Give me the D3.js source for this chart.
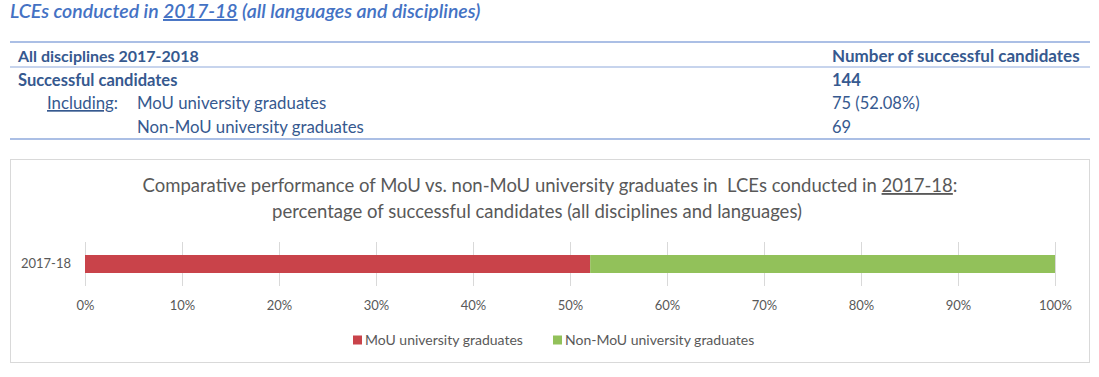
<!DOCTYPE html>
<html>
<head>
<meta charset="utf-8">
<script src="https://cdn.jsdelivr.net/npm/d3@7"></script>
<style>
  html, body { margin: 0; padding: 0; background: #fff; }
  svg { display: block; font-family: Lato, "Open Sans", sans-serif; }
  text { white-space: pre; }
</style>
</head>
<body>
<svg id="chart" width="1099" height="377"></svg>
<script>
// ---- data ----
const pageTitleParts = ["LCEs conducted in ", "2017-18", " (all languages and disciplines)"];
const tableHeader = ["All disciplines 2017-2018", "Number of successful candidates"];
const tableRowLabels = ["Successful candidates", "MoU university graduates", "Non-MoU university graduates"];
const tableRowValues = ["144", "75 (52.08%)", "69"];
const includingLabel = "Including";
const chartTitleLine1 = ["Comparative performance of MoU vs. non-MoU university graduates in  LCEs conducted in ", "2017-18", ":"];
const chartTitleLine2 = "percentage of successful candidates (all disciplines and languages)";
const categories = ["2017-18"];
const seriesNames = ["MoU university graduates", "Non-MoU university graduates"];
const mouValues = [52.08];
const nonMouValues = [47.92];
const xTicks = [0, 10, 20, 30, 40, 50, 60, 70, 80, 90, 100];
const seriesColors = ["#C9434A", "#92C15A"];

const svg = d3.select("#chart");
const blue = "#36598F";
const lineBlue = "#8FAADC";

// ---- page title ----
const pt = svg.append("text").attr("x", 10).attr("y", 18)
  .attr("font-size", 19.5).attr("font-style", "italic").attr("font-weight", 600)
  .attr("fill", "#4472C4");
pageTitleParts.forEach((p, i) => {
  pt.append("tspan").text(p).attr("text-decoration", i === 1 ? "underline" : null);
});

// ---- table ----
const tbl = svg.append("g");
const tLeft = 10, tRight = 1090, colX = 832;
[42, 67, 139].forEach(y => {
  tbl.append("line").attr("x1", tLeft).attr("x2", tRight).attr("y1", y).attr("y2", y)
    .attr("stroke", lineBlue).attr("stroke-width", y === 67 ? 1.2 : 1.6);
});
const boldSize = 16.5, regSize = 16.8;
tbl.append("text").attr("x", 18).attr("y", 62).attr("font-size", 16).attr("font-weight", 700)
  .attr("fill", blue).text(tableHeader[0]);
tbl.append("text").attr("x", colX).attr("y", 62).attr("font-size", 17).attr("font-weight", 700)
  .attr("fill", blue).text(tableHeader[1]);
const rowY = [86, 109, 133];
tbl.append("text").attr("x", 18).attr("y", rowY[0]).attr("font-size", boldSize).attr("font-weight", 700)
  .attr("fill", blue).text(tableRowLabels[0]);
const inc = tbl.append("text").attr("x", 47).attr("y", rowY[1]).attr("font-size", regSize).attr("fill", blue);
inc.append("tspan").attr("text-decoration", "underline").text(includingLabel);
inc.append("tspan").text(":");
tbl.append("text").attr("x", 137).attr("y", rowY[1]).attr("font-size", regSize).attr("fill", blue).text(tableRowLabels[1]);
tbl.append("text").attr("x", 137).attr("y", rowY[2]).attr("font-size", regSize).attr("fill", blue).text(tableRowLabels[2]);
tableRowValues.forEach((v, i) => {
  tbl.append("text").attr("x", colX).attr("y", rowY[i]).attr("font-size", i === 0 ? boldSize : 16.5)
    .attr("font-weight", i === 0 ? 700 : 400).attr("fill", blue).text(v);
});

// ---- chart box ----
svg.append("rect").attr("x", 10.5).attr("y", 159.5).attr("width", 1079).attr("height", 203)
  .attr("fill", "#fff").attr("stroke", "#D9D9D9");

const t1 = svg.append("text").attr("x", 550).attr("y", 192).attr("text-anchor", "middle")
  .attr("font-size", 18.5).attr("fill", "#595959");
chartTitleLine1.forEach((p, i) => {
  t1.append("tspan").text(p).attr("text-decoration", i === 1 ? "underline" : null);
});
svg.append("text").attr("x", 537).attr("y", 218).attr("text-anchor", "middle")
  .attr("font-size", 18.5).attr("fill", "#595959").text(chartTitleLine2);

// ---- scales ----
const x = d3.scaleLinear().domain([0, 100]).range([85, 1055]);
const y = d3.scaleBand().domain(categories).range([242, 286]).paddingInner(0.3).paddingOuter(0.3);

// gridlines
svg.append("g").selectAll("line").data(xTicks).join("line")
  .attr("x1", d => x(d) + 0.5).attr("x2", d => x(d) + 0.5)
  .attr("y1", 242).attr("y2", 286)
  .attr("stroke", "#D9D9D9").attr("stroke-width", 1);

// stacked bars
const rows = categories.map((c, i) => ({ cat: c, mou: mouValues[i], non: nonMouValues[i] }));
const stack = d3.stack().keys(["mou", "non"])(rows);
svg.append("g").selectAll("g").data(stack).join("g")
  .attr("fill", (d, i) => seriesColors[i])
  .selectAll("rect").data(d => d).join("rect")
  .attr("x", d => x(d[0])).attr("width", d => x(d[1]) - x(d[0]))
  .attr("y", 255).attr("height", 18);

// x axis labels
const xAxis = d3.axisBottom(x).tickValues(xTicks).tickFormat(d => d + "%").tickSize(0).tickPadding(0);
const xg = svg.append("g").attr("transform", "translate(0,301)").call(xAxis);
xg.select(".domain").remove();
xg.selectAll("text").attr("font-size", 13).attr("fill", "#595959").attr("font-family", "Lato, sans-serif");

// y axis label
const yAxis = d3.axisLeft(y).tickSize(0).tickPadding(0);
const yg = svg.append("g").attr("transform", "translate(71,0)").call(yAxis);
yg.select(".domain").remove();
yg.selectAll("text").attr("font-size", 13).attr("fill", "#595959").attr("font-family", "Lato, sans-serif");

// legend
const legX = [353, 553];
const lg = svg.append("g").selectAll("g").data(seriesNames).join("g")
  .attr("transform", (d, i) => `translate(${legX[i]},340)`);
lg.append("rect").attr("x", 0).attr("y", -4.5).attr("width", 9).attr("height", 9)
  .attr("fill", (d, i) => seriesColors[i]);
lg.append("text").attr("x", 12).attr("y", 5).attr("font-size", 14).attr("fill", "#595959").text(d => d);
</script>
</body>
</html>
